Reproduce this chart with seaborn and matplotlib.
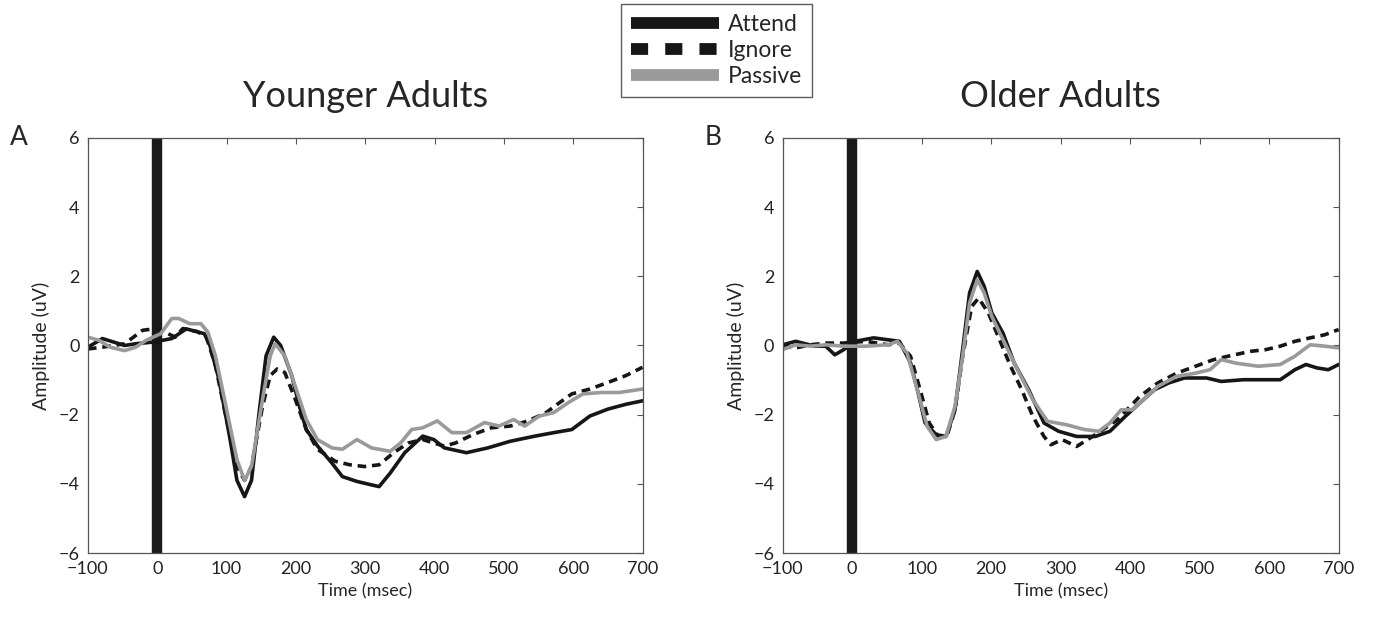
import pandas as pd
import matplotlib.pyplot as plt
import seaborn as sns
from matplotlib.lines import Line2D

# ---- Younger adults (panel A) ----
ya_attend_t = [-100, -79, -47, -31, -5, 21, 42, 68, 76, 89, 105, 115, 126, 136, 147, 157, 168, 178,
               194, 205, 215, 231, 252, 267, 288, 309, 320, 336, 357, 383, 399, 414, 446, 477, 509,
               545, 572, 598, 624, 650, 676, 700]
ya_attend_v = [-0.05, 0.2, 0.0, 0.05, 0.1, 0.2, 0.48, 0.34, 0.0, -0.97, -2.7, -3.9, -4.37, -3.9, -1.94,
               -0.3, 0.24, 0.0, -0.87, -1.75, -2.43, -2.9, -3.4, -3.79, -3.93, -4.03, -4.08, -3.69,
               -3.1, -2.62, -2.72, -2.96, -3.1, -2.96, -2.77, -2.62, -2.52, -2.43, -2.04, -1.84,
               -1.7, -1.6]

ya_ignore_t = [-100, -79, -47, -21, 0, 26, 37, 58, 71, 84, 100, 115, 126, 136, 152, 163, 173, 184,
               199, 215, 231, 257, 278, 299, 320, 341, 362, 383, 399, 414, 430, 456, 482, 509, 535,
               561, 577, 598, 624, 650, 676, 700]
ya_ignore_v = [-0.1, -0.05, 0.05, 0.44, 0.49, 0.24, 0.49, 0.4, 0.24, -0.58, -2.14, -3.5, -3.9, -3.5,
               -1.75, -0.87, -0.68, -0.78, -1.55, -2.43, -3.0, -3.35, -3.45, -3.5, -3.45, -3.1,
               -2.82, -2.72, -2.82, -2.91, -2.82, -2.57, -2.38, -2.33, -2.18, -1.94, -1.7, -1.4,
               -1.26, -1.07, -0.87, -0.63]

ya_passive_t = [-100, -84, -68, -47, -31, -16, 5, 21, 31, 47, 63, 73, 84, 100, 115, 126, 136, 152,
                163, 170, 184, 199, 215, 231, 252, 267, 288, 309, 336, 351, 367, 383, 404, 425, 446,
                472, 493, 514, 530, 551, 572, 593, 614, 640, 666, 700]
ya_passive_v = [0.24, 0.15, -0.05, -0.15, -0.05, 0.15, 0.34, 0.78, 0.78, 0.63, 0.63, 0.39, -0.3,
                -1.84, -3.3, -3.9, -3.5, -1.55, -0.3, 0.05, -0.3, -1.17, -2.14, -2.72, -2.96, -3.0,
                -2.72, -2.96, -3.06, -2.82, -2.43, -2.38, -2.18, -2.52, -2.52, -2.23, -2.33, -2.14,
                -2.33, -2.04, -1.94, -1.65, -1.4, -1.36, -1.36, -1.26]

# ---- Older adults (panel B) ----
oa_attend_t = [-100, -81, -54, -38, -25, -12, 4, 31, 57, 68, 84, 95, 105, 121, 135, 148, 159, 169,
               180, 190, 201, 217, 233, 254, 276, 297, 323, 350, 371, 393, 414, 435, 456, 478, 510,
               531, 563, 595, 616, 637, 653, 669, 685, 700]
oa_attend_v = [0.02, 0.12, -0.02, -0.02, -0.27, -0.12, 0.12, 0.22, 0.15, 0.12, -0.5, -1.37, -2.24,
               -2.58, -2.63, -1.86, -0.12, 1.52, 2.14, 1.71, 0.94, 0.36, -0.5, -1.28, -2.24, -2.48,
               -2.63, -2.63, -2.48, -2.05, -1.66, -1.28, -1.08, -0.94, -0.94, -1.04, -0.99, -0.99,
               -0.99, -0.7, -0.55, -0.65, -0.7, -0.55]

oa_ignore_t = [-100, -81, -60, -38, -12, 20, 52, 68, 84, 95, 111, 124, 137, 148, 159, 172, 182, 196,
               212, 228, 244, 260, 276, 286, 302, 323, 350, 382, 414, 440, 467, 494, 520, 541, 573,
               595, 616, 637, 659, 680, 700]
oa_ignore_v = [-0.02, -0.07, 0.02, 0.07, 0.07, 0.12, 0.02, 0.07, -0.31, -1.08, -2.24, -2.63, -2.58,
               -1.86, -0.31, 1.13, 1.37, 0.94, 0.17, -0.6, -1.28, -2.05, -2.63, -2.87, -2.72, -2.92,
               -2.58, -2.14, -1.47, -1.08, -0.8, -0.6, -0.41, -0.31, -0.17, -0.12, -0.02, 0.12,
               0.22, 0.31, 0.46]

oa_passive_t = [-100, -81, -60, -38, -12, 20, 52, 65, 79, 95, 108, 121, 135, 148, 159, 169, 180, 190,
                201, 217, 238, 260, 281, 308, 334, 355, 371, 387, 403, 419, 440, 467, 494, 515, 531,
                552, 584, 616, 637, 659, 680, 700]
oa_passive_v = [-0.12, 0.02, -0.02, 0.02, -0.02, -0.02, 0.02, 0.12, -0.22, -1.37, -2.34, -2.72, -2.63,
                -1.76, -0.31, 1.23, 1.9, 1.52, 0.84, 0.17, -0.7, -1.57, -2.19, -2.29, -2.43, -2.48,
                -2.24, -1.86, -1.86, -1.57, -1.18, -0.89, -0.8, -0.7, -0.41, -0.51, -0.6, -0.55,
                -0.31, 0.02, -0.02, -0.07]

conditions = ["Attend", "Ignore", "Passive"]
panels = ["Younger Adults", "Older Adults"]
letters = ["A", "B"]


def build_frame(series):
    rows = []
    for cond, (t, v) in zip(conditions, series):
        rows.append(pd.DataFrame({"time": t, "amp": v, "cond": cond}))
    return pd.concat(rows, ignore_index=True)


frames = [
    build_frame([(ya_attend_t, ya_attend_v), (ya_ignore_t, ya_ignore_v), (ya_passive_t, ya_passive_v)]),
    build_frame([(oa_attend_t, oa_attend_v), (oa_ignore_t, oa_ignore_v), (oa_passive_t, oa_passive_v)]),
]

sns.set_style("white")
plt.rcParams["font.family"] = ["Lato", "DejaVu Sans"]

palette = {"Attend": "#161616", "Ignore": "#161616", "Passive": "#9a9a9a"}
dashes = {"Attend": "", "Ignore": (2.4, 1.6), "Passive": ""}

fig = plt.figure(figsize=(13.73, 6.27), dpi=100)
ax_pos = [[0.064, 0.118, 0.404, 0.662], [0.570, 0.118, 0.405, 0.662]]

for i, df in enumerate(frames):
    ax = fig.add_axes(ax_pos[i])
    ax.axvline(0, color="#1a1a1a", lw=7.5, zorder=1)
    sns.lineplot(data=df, x="time", y="amp", hue="cond", style="cond", palette=palette,
                 dashes=dashes, hue_order=conditions, estimator=None, sort=True,
                 lw=2.6, legend=False, ax=ax)
    ax.set_xlim(-100, 700)
    ax.set_ylim(-6, 6)
    ax.set_xticks(range(-100, 701, 100))
    ax.set_xticklabels([str(x).replace("-", "\u2212") for x in range(-100, 701, 100)])
    ax.set_yticks(range(-6, 7, 2))
    ax.set_yticklabels([str(y).replace("-", "\u2212") for y in range(-6, 7, 2)])
    ax.tick_params(direction="in", length=4, width=0.8, labelsize=13, colors="#222222",
                   right=True, top=True, pad=6)
    ax.tick_params(axis="both", which="both", color="#555555")
    for s in ax.spines.values():
        s.set_color("#555555")
        s.set_linewidth(0.9)
    ax.set_xlabel("Time (msec)", fontsize=13, labelpad=4)
    ax.set_ylabel("Amplitude (uV)", fontsize=14, labelpad=6)
    ax.set_title(panels[i], fontsize=26, pad=22)
    ax.text(-0.14, 1.0, letters[i], transform=ax.transAxes, fontsize=19, va="center")

handles = [
    Line2D([], [], color="#161616", lw=8.5, solid_capstyle="butt"),
    Line2D([], [], color="#161616", lw=8.5, dashes=(1.45, 1.45), dash_capstyle="butt"),
    Line2D([], [], color="#9a9a9a", lw=8.5, solid_capstyle="butt"),
]
leg = fig.legend(handles, conditions, loc="upper center", bbox_to_anchor=(0.522, 0.998),
                 fontsize=16.5, handlelength=3.8, frameon=True, fancybox=False,
                 edgecolor="#333333", borderpad=0.45, labelspacing=0.22, handletextpad=0.4,
                 borderaxespad=0.1)
leg.get_frame().set_linewidth(1.0)

fig.savefig("out.png", dpi=100)
